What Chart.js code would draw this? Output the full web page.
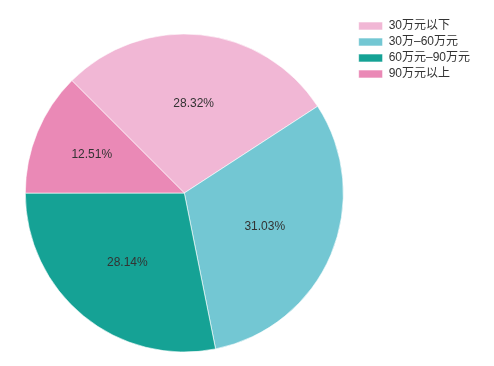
<!DOCTYPE html>
<html>
<head>
<meta charset="utf-8">
<script src="https://cdn.jsdelivr.net/npm/chart.js@4.4.1/dist/chart.umd.min.js"></script>
<style>
  html, body { margin: 0; padding: 0; background: #fff; overflow: hidden; }
  #wrap { position: relative; width: 494px; height: 370px; }
</style>
</head>
<body>
<div id="wrap"><canvas id="chart"></canvas></div>
<script>
var categories = ['30万元以下', '30万–60万元', '60万元–90万元', '90万元以上'];
var shares = [28.32, 31.03, 28.14, 12.51];
var colors = ['#f1b7d5', '#73c7d3', '#15a295', '#ea89b6'];

var FONT = '"Liberation Sans", Arial, "Noto Sans CJK SC", sans-serif';

// percentage text placed near each slice's centroid
var sliceLabels = {
  id: 'sliceLabels',
  afterDatasetsDraw: function(chart) {
    var ctx = chart.ctx;
    var meta = chart.getDatasetMeta(0);
    ctx.save();
    ctx.font = '12px ' + FONT;
    ctx.fillStyle = '#333';
    ctx.textAlign = 'center';
    ctx.textBaseline = 'middle';
    meta.data.forEach(function(arc, i) {
      var p = arc.getProps(['x', 'y', 'startAngle', 'endAngle', 'outerRadius'], true);
      var theta = p.endAngle - p.startAngle;
      var mid = p.startAngle + theta / 2;
      var d = 0.97 * 4 * p.outerRadius * Math.sin(theta / 2) / (3 * theta);
      ctx.fillText(shares[i].toFixed(2) + '%', p.x + d * Math.cos(mid), p.y + d * Math.sin(mid));
    });
    ctx.restore();
  }
};

new Chart(document.getElementById('chart'), {
  type: 'pie',
  data: {
    labels: categories,
    datasets: [{
      data: shares,
      backgroundColor: colors,
      borderColor: 'rgba(255,255,255,0.6)',
      borderWidth: 1,
      radius: 159
    }]
  },
  options: {
    responsive: true,
    maintainAspectRatio: false,
    animation: false,
    rotation: -45,
    layout: { padding: { left: 14, top: 16, right: 14, bottom: 0 } },
    plugins: {
      legend: {
        position: 'right',
        align: 'start',
        labels: {
          boxWidth: 24,
          boxHeight: 8,
          padding: 4,
          color: '#333',
          font: { size: 12, family: FONT }
        }
      },
      tooltip: { enabled: false }
    }
  },
  plugins: [sliceLabels]
});
</script>
</body>
</html>
